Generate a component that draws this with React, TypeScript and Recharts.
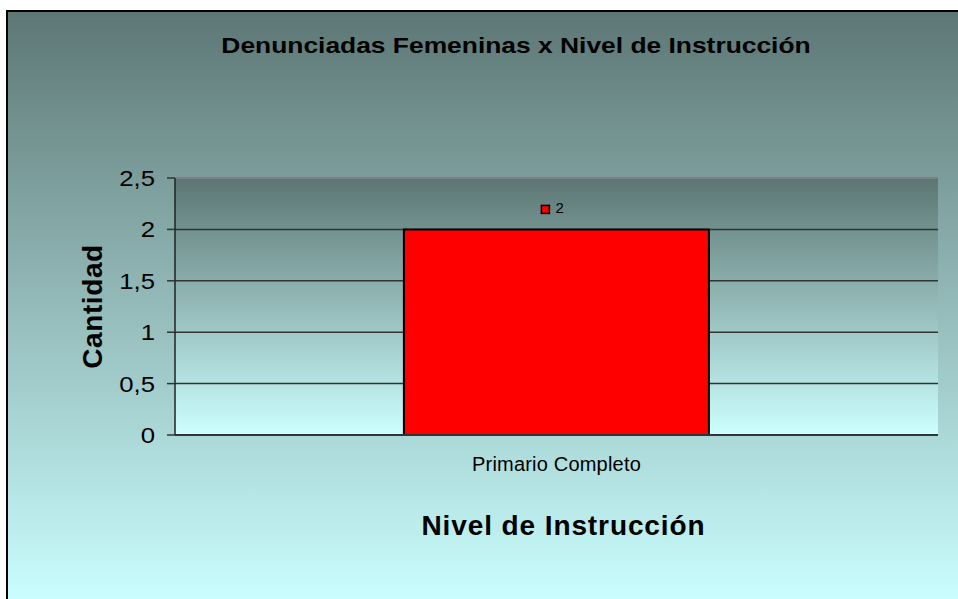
import { BarChart, Bar, XAxis, YAxis, CartesianGrid, ReferenceLine, LabelList } from 'recharts'

const categories = ['Primario Completo']
const cantidad = [2]
const yTicks = [0, 0.5, 1, 1.5, 2, 2.5]
const edgeTicks = [0, 1]

const data = categories.map((nivel, i) => ({ nivel, cantidad: cantidad[i] }))

const FONT = '"Liberation Sans", Arial, sans-serif'

const fmt = (v: number) => String(v).replace('.', ',')

function BarValue(props: any) {
  const { x, y, width, value } = props
  const cx = x + width / 2
  return (
    <g>
      <rect x={cx - 15} y={y - 24} width={8} height={8} fill="#ff0000" stroke="#000" strokeWidth={1.5} />
      <text x={cx - 1} y={y - 16} fontSize={15} fontFamily={FONT} fill="#000">
        {value}
      </text>
    </g>
  )
}

function CategoryTick(props: any) {
  const { x, y, payload } = props
  return (
    <text x={x} y={y + 34} textAnchor="middle" fontSize={20} letterSpacing={0.2} fontFamily={FONT} fill="#000">
      {payload.value}
    </text>
  )
}

function ValueTick(props: any) {
  const { x, y, payload } = props
  return (
    <text
      transform={`translate(${x}, ${y + 8}) scale(1.17, 1)`}
      textAnchor="end"
      fontSize={22}
      fontFamily={FONT}
      fill="#000"
    >
      {fmt(payload.value)}
    </text>
  )
}

export default function App() {
  return (
    <div style={{ position: 'fixed', left: 0, top: 0, width: 958, height: 599, overflow: 'hidden' }}>
      <div
        style={{
          position: 'absolute',
          left: 6,
          top: 10,
          width: 1100,
          height: 589,
          borderLeft: '2px solid #000',
          borderTop: '2px solid #000',
          background: 'linear-gradient(to bottom, #5d7775 0%, #cafefe 100%)',
        }}
      />
      <svg style={{ position: 'absolute', left: 0, top: 0 }} width={958} height={80}>
        <text
          transform="translate(516, 53) scale(1.2, 1)"
          textAnchor="middle"
          fontSize={22}
          fontWeight="bold"
          fontFamily={FONT}
          fill="#000"
        >
          Denunciadas Femeninas x Nivel de Instrucción
        </text>
      </svg>
      <div style={{ position: 'absolute', left: 0, top: 0 }}>
        <BarChart
          width={958}
          height={599}
          data={data}
          margin={{ top: 178, right: 20, bottom: 0, left: 0 }}
          barCategoryGap="30%"
        >
          <defs>
            <linearGradient id="plotFill" x1="0" y1="0" x2="0" y2="1">
              <stop offset="0%" stopColor="#5c7673" />
              <stop offset="100%" stopColor="#ccffff" />
            </linearGradient>
          </defs>
          <CartesianGrid vertical={false} fill="url(#plotFill)" fillOpacity={1} stroke="#333" strokeWidth={1.5} />
          <XAxis
            xAxisId="edge"
            type="number"
            domain={[0, 1]}
            ticks={edgeTicks}
            tick={false}
            axisLine={false}
            tickLine={{ stroke: '#333', strokeWidth: 1.5 }}
            tickSize={7}
            height={0}
          />
          <XAxis
            dataKey="nivel"
            height={164}
            axisLine={{ stroke: '#333', strokeWidth: 2 }}
            tickLine={false}
            tickSize={0}
            tick={<CategoryTick />}
            label={{
              content: (p: any) => {
                const vb = p.viewBox
                return (
                  <text
                    x={vb.x + vb.width / 2 + 7}
                    y={535}
                    textAnchor="middle"
                    fontSize={28}
                    fontWeight="bold"
                    letterSpacing={0.9}
                    fontFamily={FONT}
                    fill="#000"
                  >
                    Nivel de Instrucción
                  </text>
                )
              },
            }}
          />
          <YAxis
            domain={[0, 2.5]}
            ticks={yTicks}
            width={175}
            axisLine={{ stroke: '#222', strokeWidth: 1.5 }}
            tickLine={{ stroke: '#333', strokeWidth: 1.5 }}
            tickSize={8}
            tickMargin={12}
            tick={<ValueTick />}
            label={{
              content: (p: any) => {
                const vb = p.viewBox
                const cy = vb.y + vb.height / 2
                return (
                  <text
                    x={102}
                    y={cy}
                    transform={`rotate(-90, 102, ${cy})`}
                    textAnchor="middle"
                    fontSize={28}
                    fontWeight="bold"
                    letterSpacing={0.6}
                    fontFamily={FONT}
                    fill="#000"
                  >
                    Cantidad
                  </text>
                )
              },
            }}
          />
          <YAxis
            yAxisId="right"
            orientation="right"
            domain={[0, 2.5]}
            width={0}
            tick={false}
            tickLine={false}
            axisLine={{ stroke: '#808080', strokeWidth: 2.5 }}
          />
          <ReferenceLine y={2.5} stroke="#808080" strokeWidth={2} />
          <Bar dataKey="cantidad" fill="#ff0000" stroke="#000" strokeWidth={2} isAnimationActive={false}>
            <LabelList dataKey="cantidad" content={<BarValue />} />
          </Bar>
        </BarChart>
      </div>
    </div>
  )
}
